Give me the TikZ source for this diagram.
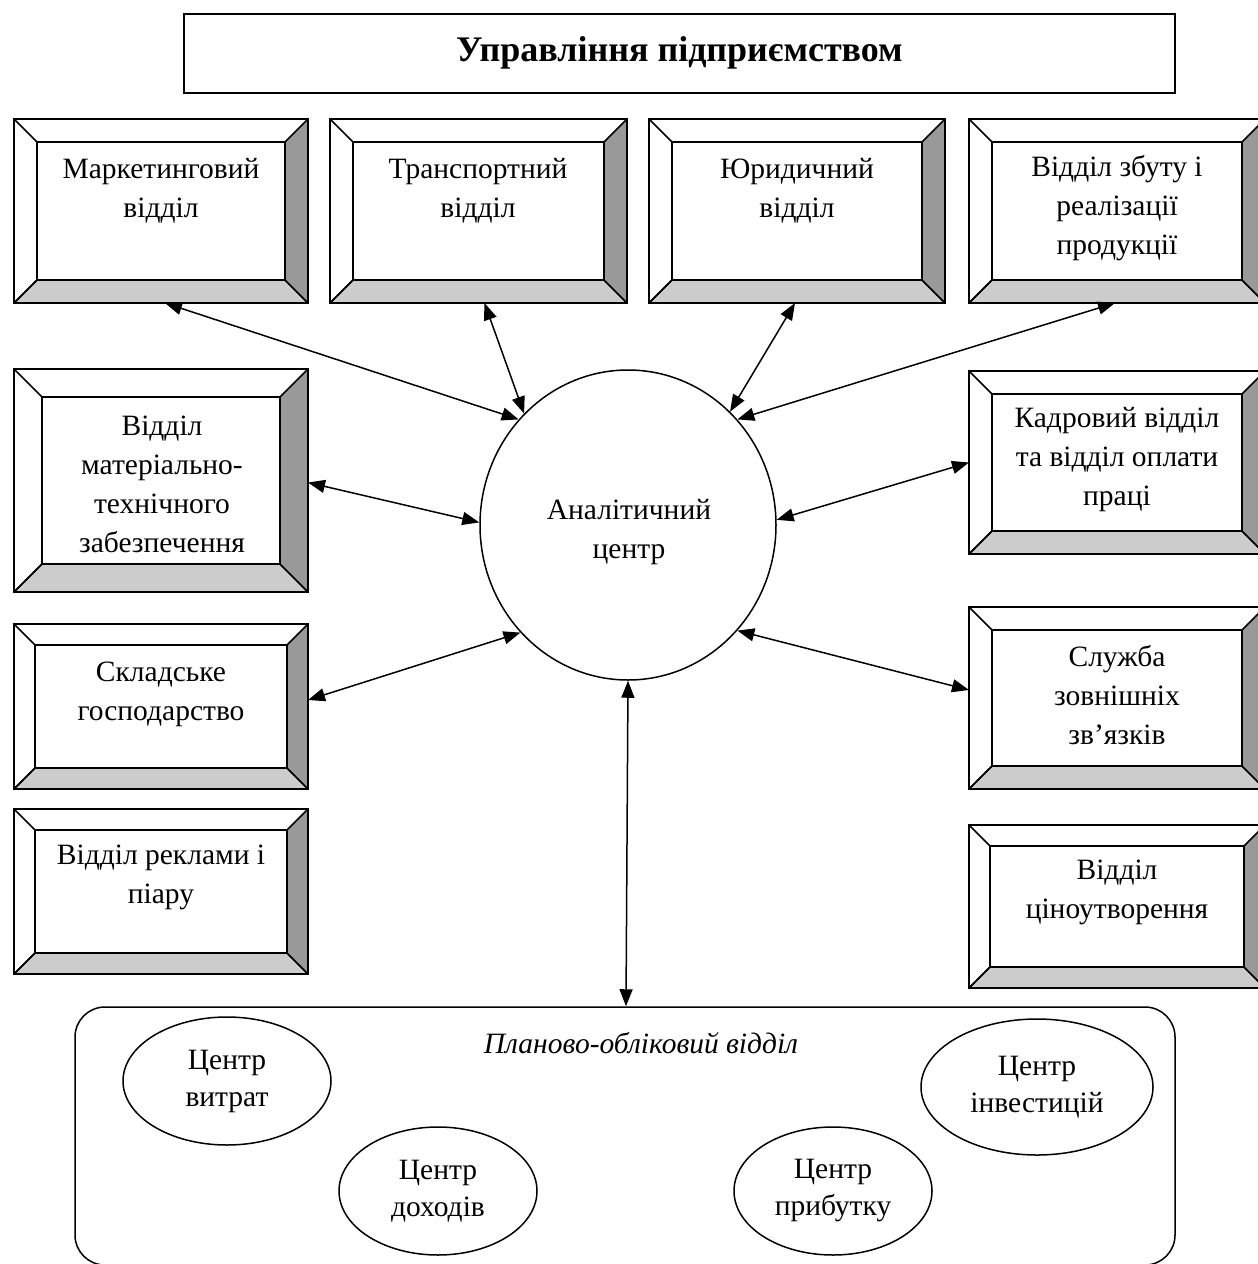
\documentclass[tikz,border=0pt]{standalone}
\usepackage{fontspec}
\setmainfont{Liberation Serif}
\usetikzlibrary{arrows.meta,shapes.geometric}
\definecolor{bevlight}{RGB}{204,204,204}
\definecolor{bevdark}{RGB}{153,153,153}
\tikzset{
  bevel/.style={rectangle, draw=black, line width=1.5pt, fill=white, inner sep=0pt, outer sep=0pt,
    path picture={
      \coordinate (bSW) at (path picture bounding box.south west);
      \coordinate (bNE) at (path picture bounding box.north east);
      \coordinate (bSE) at (path picture bounding box.south east);
      \coordinate (bNW) at (path picture bounding box.north west);
      \coordinate (iSW) at ([xshift=#1,yshift=#1]bSW);
      \coordinate (iNE) at ([xshift=-#1,yshift=-#1]bNE);
      \coordinate (iSE) at ([xshift=-#1,yshift=#1]bSE);
      \coordinate (iNW) at ([xshift=#1,yshift=-#1]bNW);
      \filldraw[fill=bevlight, line width=1.5pt] (bSW) -- (bSE) -- (iSE) -- (iSW) -- cycle;
      \filldraw[fill=bevdark, line width=1.5pt] (bSE) -- (bNE) -- (iNE) -- (iSE) -- cycle;
      \draw[line width=1.5pt] (bNW) -- (iNW) (bSW) -- (iSW);
      \draw[line width=1.5pt] (iSW) rectangle (iNE);
    }},
  txt/.style={align=center, font=\fontsize{29.5}{39}\selectfont, inner sep=0pt},
  oval/.style={ellipse, draw=black, line width=1.5pt, inner sep=0pt, align=center,
    font=\fontsize{29.5}{37}\selectfont},
  biarrow/.style={{Triangle[length=17pt,width=13pt]}-{Triangle[length=17pt,width=13pt]}, line width=1.5pt},
}
\newfontfamily\titlefont{Liberation Serif}
\begin{document}
\begin{tikzpicture}[x=1pt,y=-1pt]
\useasboundingbox (0,0) rectangle (1258,1264);
\clip (0,0) rectangle (1258,1264);

% title
\node[draw=black, line width=2pt, minimum width=991pt, minimum height=79pt, inner sep=0pt,
  font=\titlefont\bfseries\fontsize{36}{40}\selectfont] (title) at (679.5,53) {Управління підприємством};

% bevel boxes
\node[bevel=23pt, minimum width=294pt, minimum height=184pt] (mark) at (161,211) {};
\node[bevel=23pt, minimum width=297pt, minimum height=184pt] (trans) at (478.5,211) {};
\node[bevel=23pt, minimum width=296pt, minimum height=184pt] (jur) at (797,211) {};
\node[bevel=23pt, minimum width=296pt, minimum height=184pt] (zbut) at (1117,211) {};
\node[bevel=28pt, minimum width=294pt, minimum height=223pt] (mtz) at (161,480.5) {};
\node[bevel=23pt, minimum width=296pt, minimum height=183pt] (kadr) at (1117,462.5) {};
\node[bevel=21pt, minimum width=294pt, minimum height=165pt] (sklad) at (161,706.5) {};
\node[bevel=23pt, minimum width=296pt, minimum height=182pt] (sluzh) at (1117,698) {};
\node[bevel=21pt, minimum width=294pt, minimum height=165pt] (rekl) at (161,891.5) {};
\node[bevel=21pt, minimum width=296pt, minimum height=163pt] (tsin) at (1117,906.5) {};

% box texts
\node[txt] (mark-t) at (161,191) {Маркетинговий\\відділ};
\node[txt] (trans-t) at (478,191) {Транспортний\\відділ};
\node[txt] (jur-t) at (797,191) {Юридичний\\відділ};
\node[txt] (zbut-t) at (1117,208) {Відділ збуту і\\реалізації\\продукції};
\node[txt] (mtz-t) at (162,484) {Відділ\\матеріально-\\технічного\\забезпечення};
\node[txt] (kadr-t) at (1117,460) {Кадровий відділ\\та відділ оплати\\праці};
\node[txt] (sklad-t) at (161,694) {Складське\\господарство};
\node[txt] (sluzh-t) at (1117,695) {Служба\\зовнішніх\\зв’язків};
\node[txt] (rekl-t) at (161,877) {Відділ реклами і\\піару};
\node[txt] (tsin-t) at (1117,892) {Відділ\\ціноутворення};

% analytical centre
\node[ellipse, draw=black, line width=1.5pt, minimum width=296pt, minimum height=310pt, inner sep=0pt] (ac) at (628,525) {};
\node[txt] (ac-t) at (629,532) {Аналітичний\\центр};

% planning department
\node[draw=black, rounded corners=30pt, line width=1.5pt, minimum width=1100pt, minimum height=258pt, inner sep=0pt] (plan) at (625,1136) {};
\node[txt, font=\itshape\fontsize{29.5}{39}\selectfont] (plan-t) at (641,1043) {Планово-обліковий відділ};

\node[oval, minimum width=208pt, minimum height=128pt] (c1) at (227,1081) {Центр\\витрат};
\node[oval, minimum width=198pt, minimum height=128pt] (c2) at (438,1191) {Центр\\доходів};
\node[oval, minimum width=198pt, minimum height=128pt] (c3) at (833,1191) {Центр\\прибутку};
\node[oval, minimum width=232pt, minimum height=136pt] (c4) at (1037,1087) {Центр\\інвестицій};

% connectors
\draw[biarrow] ([xshift=4pt]mark.south) -- (ac.136);
\draw[biarrow] ([xshift=6pt]trans.south) -- (ac.133);
\draw[biarrow] ([xshift=-2pt]jur.south) -- (ac.48);
\draw[biarrow] ([xshift=-2pt]zbut.south) -- (ac.44);
\draw[biarrow] ([yshift=-2pt]mtz.east) -- (ac.179);
\draw[biarrow] (kadr.west) -- (ac.2);
\draw[biarrow] ([yshift=6.5pt]sklad.east) -- (ac.225);
\draw[biarrow] ([yshift=8pt]sluzh.west) -- (ac.316);
\draw[biarrow] (ac.south) -- ([xshift=1pt]plan.north);
\end{tikzpicture}
\end{document}
